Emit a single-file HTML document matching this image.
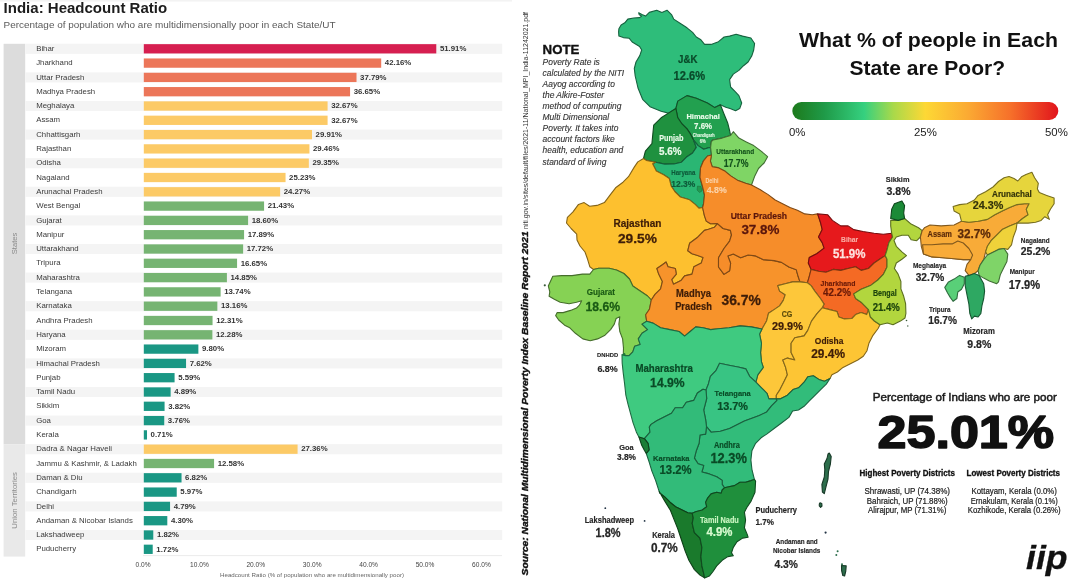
<!DOCTYPE html>
<html lang="en">
<head>
<meta charset="utf-8">
<title>India: Headcount Ratio</title>
<style>
html,body{margin:0;padding:0;background:#fff;}
body{width:1080px;height:585px;overflow:hidden;font-family:"Liberation Sans",sans-serif;}
svg{display:block;position:absolute;left:0;top:0;}
text{font-family:"Liberation Sans",sans-serif;}
.rl{font-size:7.8px;fill:#3a3a3a;}
.vl{font-size:7.8px;fill:#333;font-weight:bold;}
.ax{font-size:6.6px;fill:#444;text-anchor:middle;}
.st{stroke-width:1.1;stroke-linejoin:round;}
.lb{font-weight:bold;text-anchor:middle;}
</style>
</head>
<body>
<svg width="1080" height="585" viewBox="0 0 1080 585">
<rect x="0" y="0" width="1080" height="585" fill="#ffffff"/>
<rect x="0" y="0" width="512" height="1.6" fill="#f3f3f3"/>
<g id="chart">
<text x="3.6" y="13.2" font-size="14.2" font-weight="bold" fill="#1c1c1c" textLength="163.5" lengthAdjust="spacingAndGlyphs">India: Headcount Ratio</text>
<text x="3.6" y="28.1" font-size="9.3" fill="#5a5a5a" textLength="332" lengthAdjust="spacingAndGlyphs">Percentage of population who are multidimensionally poor in each State/UT</text>
<rect x="3.6" y="43.8" width="21.6" height="400.4" fill="#dcdcdc"/>
<rect x="3.6" y="444.2" width="21.6" height="112.4" fill="#e9e9e9"/>
<text transform="translate(16.6,243.5) rotate(-90)" font-size="7.6" fill="#8a8a8a" text-anchor="middle">States</text>
<text transform="translate(16.6,500.4) rotate(-90)" font-size="7.8" fill="#8a8a8a" text-anchor="middle">Union Territories</text>
<rect x="25.2" y="43.75" width="477" height="10.1" fill="#f4f4f4"/>
<rect x="25.2" y="72.35" width="477" height="10.1" fill="#f4f4f4"/>
<rect x="25.2" y="100.95" width="477" height="10.1" fill="#f4f4f4"/>
<rect x="25.2" y="129.55" width="477" height="10.1" fill="#f4f4f4"/>
<rect x="25.2" y="158.15" width="477" height="10.1" fill="#f4f4f4"/>
<rect x="25.2" y="186.75" width="477" height="10.1" fill="#f4f4f4"/>
<rect x="25.2" y="215.35" width="477" height="10.1" fill="#f4f4f4"/>
<rect x="25.2" y="243.95" width="477" height="10.1" fill="#f4f4f4"/>
<rect x="25.2" y="272.55" width="477" height="10.1" fill="#f4f4f4"/>
<rect x="25.2" y="301.15" width="477" height="10.1" fill="#f4f4f4"/>
<rect x="25.2" y="329.75" width="477" height="10.1" fill="#f4f4f4"/>
<rect x="25.2" y="358.35" width="477" height="10.1" fill="#f4f4f4"/>
<rect x="25.2" y="386.95" width="477" height="10.1" fill="#f4f4f4"/>
<rect x="25.2" y="415.55" width="477" height="10.1" fill="#f4f4f4"/>
<rect x="25.2" y="444.15" width="477" height="10.1" fill="#f4f4f4"/>
<rect x="25.2" y="472.75" width="477" height="10.1" fill="#f4f4f4"/>
<rect x="25.2" y="501.35" width="477" height="10.1" fill="#f4f4f4"/>
<rect x="25.2" y="529.95" width="477" height="10.1" fill="#f4f4f4"/>
<rect x="143.8" y="44.15" width="292.49" height="9.3" fill="#d61f50"/>
<text class="rl" x="36.2" y="50.90">Bihar</text>
<text class="vl" x="439.9" y="51.00">51.91%</text>
<rect x="143.8" y="58.45" width="237.40" height="9.3" fill="#ec7659"/>
<text class="rl" x="36.2" y="65.20">Jharkhand</text>
<text class="vl" x="384.8" y="65.30">42.16%</text>
<rect x="143.8" y="72.75" width="212.71" height="9.3" fill="#ec7659"/>
<text class="rl" x="36.2" y="79.50">Uttar Pradesh</text>
<text class="vl" x="360.1" y="79.60">37.79%</text>
<rect x="143.8" y="87.05" width="206.27" height="9.3" fill="#ec7659"/>
<text class="rl" x="36.2" y="93.80">Madhya Pradesh</text>
<text class="vl" x="353.7" y="93.90">36.65%</text>
<rect x="143.8" y="101.35" width="183.79" height="9.3" fill="#fcca66"/>
<text class="rl" x="36.2" y="108.10">Meghalaya</text>
<text class="vl" x="331.2" y="108.20">32.67%</text>
<rect x="143.8" y="115.65" width="183.79" height="9.3" fill="#fcca66"/>
<text class="rl" x="36.2" y="122.40">Assam</text>
<text class="vl" x="331.2" y="122.50">32.67%</text>
<rect x="143.8" y="129.95" width="168.19" height="9.3" fill="#fcca66"/>
<text class="rl" x="36.2" y="136.70">Chhattisgarh</text>
<text class="vl" x="315.6" y="136.80">29.91%</text>
<rect x="143.8" y="144.25" width="165.65" height="9.3" fill="#fcca66"/>
<text class="rl" x="36.2" y="151.00">Rajasthan</text>
<text class="vl" x="313.0" y="151.10">29.46%</text>
<rect x="143.8" y="158.55" width="165.03" height="9.3" fill="#fcca66"/>
<text class="rl" x="36.2" y="165.30">Odisha</text>
<text class="vl" x="312.4" y="165.40">29.35%</text>
<rect x="143.8" y="172.85" width="141.75" height="9.3" fill="#fcca66"/>
<text class="rl" x="36.2" y="179.60">Nagaland</text>
<text class="vl" x="289.1" y="179.70">25.23%</text>
<rect x="143.8" y="187.15" width="136.33" height="9.3" fill="#fcca66"/>
<text class="rl" x="36.2" y="193.90">Arunachal Pradesh</text>
<text class="vl" x="283.7" y="194.00">24.27%</text>
<rect x="143.8" y="201.45" width="120.28" height="9.3" fill="#76b472"/>
<text class="rl" x="36.2" y="208.20">West Bengal</text>
<text class="vl" x="267.7" y="208.30">21.43%</text>
<rect x="143.8" y="215.75" width="104.29" height="9.3" fill="#76b472"/>
<text class="rl" x="36.2" y="222.50">Gujarat</text>
<text class="vl" x="251.7" y="222.60">18.60%</text>
<rect x="143.8" y="230.05" width="100.28" height="9.3" fill="#76b472"/>
<text class="rl" x="36.2" y="236.80">Manipur</text>
<text class="vl" x="247.7" y="236.90">17.89%</text>
<rect x="143.8" y="244.35" width="99.32" height="9.3" fill="#76b472"/>
<text class="rl" x="36.2" y="251.10">Uttarakhand</text>
<text class="vl" x="246.7" y="251.20">17.72%</text>
<rect x="143.8" y="258.65" width="93.27" height="9.3" fill="#76b472"/>
<text class="rl" x="36.2" y="265.40">Tripura</text>
<text class="vl" x="240.7" y="265.50">16.65%</text>
<rect x="143.8" y="272.95" width="83.10" height="9.3" fill="#76b472"/>
<text class="rl" x="36.2" y="279.70">Maharashtra</text>
<text class="vl" x="230.5" y="279.80">14.85%</text>
<rect x="143.8" y="287.25" width="76.83" height="9.3" fill="#76b472"/>
<text class="rl" x="36.2" y="294.00">Telangana</text>
<text class="vl" x="224.2" y="294.10">13.74%</text>
<rect x="143.8" y="301.55" width="73.55" height="9.3" fill="#76b472"/>
<text class="rl" x="36.2" y="308.30">Karnataka</text>
<text class="vl" x="221.0" y="308.40">13.16%</text>
<rect x="143.8" y="315.85" width="68.75" height="9.3" fill="#76b472"/>
<text class="rl" x="36.2" y="322.60">Andhra Pradesh</text>
<text class="vl" x="216.2" y="322.70">12.31%</text>
<rect x="143.8" y="330.15" width="68.58" height="9.3" fill="#76b472"/>
<text class="rl" x="36.2" y="336.90">Haryana</text>
<text class="vl" x="216.0" y="337.00">12.28%</text>
<rect x="143.8" y="344.45" width="54.57" height="9.3" fill="#1a9784"/>
<text class="rl" x="36.2" y="351.20">Mizoram</text>
<text class="vl" x="202.0" y="351.30">9.80%</text>
<rect x="143.8" y="358.75" width="42.25" height="9.3" fill="#1a9784"/>
<text class="rl" x="36.2" y="365.50">Himachal Pradesh</text>
<text class="vl" x="189.7" y="365.60">7.62%</text>
<rect x="143.8" y="373.05" width="30.78" height="9.3" fill="#1a9784"/>
<text class="rl" x="36.2" y="379.80">Punjab</text>
<text class="vl" x="178.2" y="379.90">5.59%</text>
<rect x="143.8" y="387.35" width="26.83" height="9.3" fill="#1a9784"/>
<text class="rl" x="36.2" y="394.10">Tamil Nadu</text>
<text class="vl" x="174.2" y="394.20">4.89%</text>
<rect x="143.8" y="401.65" width="20.78" height="9.3" fill="#1a9784"/>
<text class="rl" x="36.2" y="408.40">Sikkim</text>
<text class="vl" x="168.2" y="408.50">3.82%</text>
<rect x="143.8" y="415.95" width="20.44" height="9.3" fill="#1a9784"/>
<text class="rl" x="36.2" y="422.70">Goa</text>
<text class="vl" x="167.8" y="422.80">3.76%</text>
<rect x="143.8" y="430.25" width="3.21" height="9.3" fill="#1a9784"/>
<text class="rl" x="36.2" y="437.00">Kerala</text>
<text class="vl" x="150.6" y="437.10">0.71%</text>
<rect x="143.8" y="444.55" width="153.78" height="9.3" fill="#fcca66"/>
<text class="rl" x="36.2" y="451.30">Dadra &amp; Nagar Haveli</text>
<text class="vl" x="301.2" y="451.40">27.36%</text>
<rect x="143.8" y="458.85" width="70.28" height="9.3" fill="#76b472"/>
<text class="rl" x="36.2" y="465.60">Jammu &amp; Kashmir, &amp; Ladakh</text>
<text class="vl" x="217.7" y="465.70">12.58%</text>
<rect x="143.8" y="473.15" width="37.73" height="9.3" fill="#1a9784"/>
<text class="rl" x="36.2" y="479.90">Daman &amp; Diu</text>
<text class="vl" x="185.1" y="480.00">6.82%</text>
<rect x="143.8" y="487.45" width="32.93" height="9.3" fill="#1a9784"/>
<text class="rl" x="36.2" y="494.20">Chandigarh</text>
<text class="vl" x="180.3" y="494.30">5.97%</text>
<rect x="143.8" y="501.75" width="26.26" height="9.3" fill="#1a9784"/>
<text class="rl" x="36.2" y="508.50">Delhi</text>
<text class="vl" x="173.7" y="508.60">4.79%</text>
<rect x="143.8" y="516.05" width="23.50" height="9.3" fill="#1a9784"/>
<text class="rl" x="36.2" y="522.80">Andaman &amp; Nicobar Islands</text>
<text class="vl" x="170.9" y="522.90">4.30%</text>
<rect x="143.8" y="530.35" width="9.48" height="9.3" fill="#1a9784"/>
<text class="rl" x="36.2" y="537.10">Lakshadweep</text>
<text class="vl" x="156.9" y="537.20">1.82%</text>
<rect x="143.8" y="544.65" width="8.92" height="9.3" fill="#1a9784"/>
<text class="rl" x="36.2" y="551.40">Puducherry</text>
<text class="vl" x="156.3" y="551.50">1.72%</text>
<text class="ax" x="143.0" y="567.3">0.0%</text>
<text class="ax" x="199.4" y="567.3">10.0%</text>
<text class="ax" x="255.8" y="567.3">20.0%</text>
<text class="ax" x="312.2" y="567.3">30.0%</text>
<text class="ax" x="368.6" y="567.3">40.0%</text>
<text class="ax" x="425.0" y="567.3">50.0%</text>
<text class="ax" x="481.4" y="567.3">60.0%</text>
<line x1="143" y1="555.6" x2="502" y2="555.6" stroke="#e2e2e2" stroke-width="0.7"/>
<text x="312" y="576.6" font-size="5.4" fill="#666" text-anchor="middle" textLength="184" lengthAdjust="spacingAndGlyphs">Headcount Ratio (% of population who are multidimensionally poor)</text>
</g>
<g id="source" transform="translate(527.8,575.4) rotate(-90)">
<text x="0" y="0" font-size="9.7" fill="#111" stroke="#111" stroke-width="0.4" font-weight="bold" font-style="italic" textLength="344" lengthAdjust="spacingAndGlyphs">Source: National Multidimensional Poverty Index Baseline Report 2021</text>
<text x="346.4" y="0" font-size="6.6" fill="#333" textLength="217" lengthAdjust="spacingAndGlyphs">niti.gov.in/sites/default/files/2021-11/National_MPI_India-11242021.pdf</text>
</g>
<g id="note">
<text x="542.6" y="53.6" font-size="12.6" font-weight="bold" fill="#111" stroke="#111" stroke-width="0.35" textLength="36.8" lengthAdjust="spacingAndGlyphs">NOTE</text>
<text x="542.6" y="65.00" font-size="8.45" font-style="italic" fill="#333" stroke="#333" stroke-width="0.12">Poverty Rate is</text>
<text x="542.6" y="76.06" font-size="8.45" font-style="italic" fill="#333" stroke="#333" stroke-width="0.12">calculated by the NITI</text>
<text x="542.6" y="87.12" font-size="8.45" font-style="italic" fill="#333" stroke="#333" stroke-width="0.12">Aayog according to</text>
<text x="542.6" y="98.18" font-size="8.45" font-style="italic" fill="#333" stroke="#333" stroke-width="0.12">the Alkire-Foster</text>
<text x="542.6" y="109.24" font-size="8.45" font-style="italic" fill="#333" stroke="#333" stroke-width="0.12">method of computing</text>
<text x="542.6" y="120.30" font-size="8.45" font-style="italic" fill="#333" stroke="#333" stroke-width="0.12">Multi Dimensional</text>
<text x="542.6" y="131.36" font-size="8.45" font-style="italic" fill="#333" stroke="#333" stroke-width="0.12">Poverty. It takes into</text>
<text x="542.6" y="142.42" font-size="8.45" font-style="italic" fill="#333" stroke="#333" stroke-width="0.12">account factors like</text>
<text x="542.6" y="153.48" font-size="8.45" font-style="italic" fill="#333" stroke="#333" stroke-width="0.12">health, education and</text>
<text x="542.6" y="164.54" font-size="8.45" font-style="italic" fill="#333" stroke="#333" stroke-width="0.12">standard of living</text>
</g>
<g id="map">
<polygon class="st" points="638.7,12.8 641.9,14.6 645.6,16.1 649.3,12.4 656.7,10.2 661.9,12.4 667.0,10.2 671.5,14.6 673.7,19.1 680.4,23.5 687.0,27.8 692.6,32.4 696.3,37.0 700.9,39.8 704.6,44.4 711.1,44.4 718.5,41.7 724.1,37.0 729.6,36.1 736.1,34.3 742.6,36.1 750.9,38.0 754.6,43.5 753.7,50.0 751.9,55.6 748.1,62.0 743.5,65.7 738.9,70.4 733.3,74.1 729.6,79.6 730.6,87.0 735.2,91.7 738.9,95.6 741.7,103.0 739.7,108.6 735.6,110.7 730.0,108.6 725.8,107.2 720.4,104.8 714.8,107.6 707.4,103.0 696.3,98.3 687.0,95.6 677.8,101.1 675.9,108.5 668.5,113.1 661.1,111.3 650.0,106.7 642.6,99.3 638.0,88.0 635.2,76.0 634.3,68.5 636.0,62.0 639.8,55.6 641.7,50.0 639.6,46.5 632.2,42.0 629.3,38.3 623.3,37.6 618.9,36.1 618.6,32.0 618.9,28.7 621.1,25.0 624.8,22.8 627.8,19.1 633.7,18.0 639.6,17.6 641.5,16.2 639.2,14.6" fill="#2ebd7a" stroke="#17623f"/>
<polygon class="st" points="675.9,108.5 677.8,101.1 687.0,95.6 696.3,98.3 707.4,103.0 714.8,107.6 720.4,104.8 724.0,114.0 727.8,123.3 729.6,130.7 730.6,135.4 722.2,138.1 713.0,140.0 711.3,141.5 710.6,147.5 708.5,147.8 703.7,149.3 698.1,145.6 693.5,140.0 690.7,134.4 687.0,128.9 681.5,123.3 677.8,117.8" fill="#22a04f" stroke="#115329"/>
<polygon class="st" points="668.5,113.1 675.9,108.5 677.8,117.8 681.5,123.3 687.0,128.9 690.7,134.4 693.5,140.0 696.3,147.4 692.6,153.0 687.0,156.7 681.5,162.2 674.0,164.0 664.8,164.1 655.6,162.2 646.3,160.4 643.5,158.5 645.4,151.1 651.9,143.7 652.8,134.4 653.7,125.2 661.1,117.8" fill="#1f913f" stroke="#104b20"/>
<polygon class="st" points="696.3,147.4 693.5,140.0 698.1,145.6 703.7,149.3 708.5,147.8 710.6,147.5 711.5,155.0 707.5,156.0 703.5,160.8 700.5,168.0 700.0,177.5 702.5,186.5 704.5,195.0 703.5,204.0 702.6,207.5 698.9,208.1 695.2,204.4 689.6,199.8 680.4,197.0 674.8,191.5 671.1,185.9 669.3,178.5 663.7,174.8 656.3,171.1 652.6,163.7 655.6,162.2 664.8,164.1 674.0,164.0 681.5,162.2 687.0,156.7 692.6,153.0" fill="#2ab673" stroke="#155e3b"/>
<polygon class="st" points="730.6,135.4 733.3,131.7 738.9,138.1 746.3,141.9 753.7,145.6 761.1,151.1 767.6,156.7 764.1,163.0 758.5,168.5 754.8,175.9 751.5,185.0 745.6,183.3 738.1,180.6 730.7,175.9 725.2,171.3 717.8,167.6 712.2,166.7 710.4,161.1 711.5,155.0 710.6,147.5 711.3,141.5 713.0,140.0 722.2,138.1" fill="#7fd565" stroke="#426e34"/>
<polygon class="st" points="637.8,161.9 643.5,158.5 646.3,160.4 655.6,162.2 652.6,163.7 656.3,171.1 663.7,174.8 669.3,178.5 671.1,185.9 674.8,191.5 680.4,197.0 689.6,199.8 695.2,204.4 698.9,208.1 702.6,207.5 704.4,215.6 706.3,221.1 710.5,223.8 717.5,223.6 714.5,227.2 708.5,229.3 704.4,230.4 697.0,237.8 689.6,243.3 687.8,250.7 692.0,253.7 697.6,255.6 703.1,257.4 701.3,263.0 693.9,266.7 692.0,274.1 684.6,275.9 680.9,280.6 673.5,284.3 671.7,279.6 676.3,274.1 675.4,268.5 668.0,266.7 666.1,262.0 662.4,264.8 656.9,268.5 658.7,274.1 662.4,281.5 660.6,288.9 655.0,294.4 651.3,300.0 647.6,296.0 640.2,291.0 632.8,286.0 629.5,279.0 623.9,273.5 616.5,270.0 609.1,268.3 598.7,268.3 593.5,269.5 589.8,266.7 587.6,259.3 585.0,252.0 580.0,246.0 577.0,240.0 576.7,234.1 571.1,228.5 566.5,223.0 567.4,217.4 573.0,211.9 578.5,204.4 584.1,202.6 589.6,206.3 597.0,205.4 604.4,202.6 610.0,195.2 615.6,187.8 623.0,182.2 628.5,176.7 634.1,167.4" fill="#fdc02f" stroke="#836318"/>
<polygon class="st" points="593.5,269.5 598.7,268.3 609.1,268.3 616.5,270.0 623.9,273.5 629.5,279.0 632.8,286.0 640.2,291.0 647.6,296.0 651.3,300.0 649.4,309.3 645.7,314.8 646.7,321.3 642.0,324.1 647.6,329.6 642.0,333.3 638.3,338.9 640.2,344.4 634.6,346.3 632.8,351.9 629.1,355.6 625.4,355.6 623.3,354.1 623.5,348.1 622.6,338.9 619.8,331.5 618.9,324.1 619.8,316.7 616.1,318.5 614.3,324.1 610.6,329.6 605.0,335.2 597.6,338.9 590.2,340.7 582.8,338.9 575.4,333.3 569.8,327.8 564.6,325.2 558.7,320.0 555.7,315.6 557.2,312.6 563.1,312.6 570.6,310.4 576.5,308.1 579.4,305.2 581.7,300.7 576.5,302.2 569.1,303.7 560.2,302.2 554.3,299.3 549.1,296.3 549.8,291.9 548.3,285.9 552.8,276.3 561.7,275.6 572.0,275.6 582.4,274.1 589.8,274.1" fill="#86d254" stroke="#456d2b"/>
<polygon class="st" points="704.4,230.4 708.5,229.3 714.5,227.2 717.5,223.6 723.0,228.5 730.4,230.4 731.5,235.0 729.6,241.1 724.0,248.5 718.5,257.8 718.5,267.0 724.0,274.4 729.6,270.7 730.6,263.3 727.8,255.9 733.3,254.0 740.7,257.8 748.1,255.0 755.6,255.9 763.0,259.6 774.1,260.6 781.5,262.4 788.9,267.0 796.3,269.8 798.1,276.3 800.0,281.9 792.6,281.9 785.2,283.7 777.8,285.6 779.6,291.1 785.2,294.8 783.3,300.4 779.6,305.9 774.1,309.6 768.5,313.3 766.7,320.7 762.0,329.0 751.3,326.9 740.2,325.9 729.1,327.8 718.0,328.7 710.6,329.6 703.1,327.8 695.7,326.9 690.2,331.5 684.6,336.1 679.1,331.5 669.8,329.6 660.6,327.8 653.1,323.1 646.7,321.3 645.7,314.8 649.4,309.3 651.3,300.0 655.0,294.4 660.6,288.9 662.4,281.5 658.7,274.1 656.9,268.5 662.4,264.8 666.1,262.0 668.0,266.7 675.4,268.5 676.3,274.1 671.7,279.6 673.5,284.3 680.9,280.6 684.6,275.9 692.0,274.1 693.9,266.7 701.3,263.0 703.1,257.4 697.6,255.6 692.0,253.7 687.8,250.7 689.6,243.3 697.0,237.8 704.4,230.4" fill="#f7932b" stroke="#804c16"/>
<polygon class="st" points="707.5,156.0 711.5,155.0 710.4,161.1 712.2,166.7 717.8,167.6 725.2,171.3 730.7,175.9 738.1,180.6 745.6,183.3 751.5,185.0 760.4,189.8 767.8,194.4 775.2,200.0 782.6,203.7 790.0,207.4 797.4,210.2 804.8,213.9 812.2,214.8 817.6,213.9 820.4,222.2 822.2,229.6 818.5,237.0 822.2,242.6 824.1,248.1 816.7,253.7 809.3,257.4 808.3,263.0 811.1,269.4 809.3,276.3 807.4,282.8 800.0,281.9 798.1,276.3 796.3,269.8 788.9,267.0 781.5,262.4 774.1,260.6 763.0,259.6 755.6,255.9 748.1,255.0 740.7,257.8 733.3,254.0 727.8,255.9 730.6,263.3 729.6,270.7 724.0,274.4 718.5,267.0 718.5,257.8 724.0,248.5 729.6,241.1 731.5,235.0 730.4,230.4 723.0,228.5 717.5,223.6 710.5,223.8 706.3,221.1 704.4,215.6 702.6,207.5 703.5,204.0 704.5,195.0 702.5,186.5 700.0,177.5 700.5,168.0 703.5,160.8" fill="#f68d2a" stroke="#7f4915"/>
<polygon class="st" points="817.6,213.9 827.8,214.8 832.4,220.4 840.7,225.9 848.1,225.9 853.7,229.6 863.0,231.5 874.1,233.3 883.3,234.3 891.7,233.3 892.6,237.0 888.9,242.6 887.0,250.0 885.2,255.6 879.6,259.3 874.1,263.0 868.5,268.5 861.1,270.4 855.6,266.7 848.1,268.5 840.7,270.4 833.3,269.4 825.9,272.2 818.5,271.3 811.1,269.4 808.3,263.0 809.3,257.4 816.7,253.7 824.1,248.1 822.2,242.6 818.5,237.0 822.2,229.6 820.4,222.2" fill="#e6191c" stroke="#770d0e"/>
<polygon class="st" points="811.1,269.4 818.5,271.3 825.9,272.2 833.3,269.4 840.7,270.4 848.1,268.5 855.6,266.7 861.1,270.4 868.5,268.5 874.1,263.0 879.6,259.3 885.2,255.6 887.0,259.3 887.0,267.0 883.3,274.4 877.8,280.0 870.4,285.6 861.1,289.3 853.7,293.9 855.6,298.5 861.1,302.2 864.8,305.9 868.5,309.6 866.7,314.6 861.1,312.6 855.6,314.6 851.9,318.5 844.4,318.9 838.9,317.0 837.0,311.5 829.6,309.6 822.2,307.8 824.1,304.1 820.4,298.5 814.8,291.1 811.1,285.6 807.4,282.8 809.3,276.3" fill="#f46a24" stroke="#7e3712"/>
<polygon class="st" points="777.8,285.6 785.2,283.7 792.6,281.9 800.0,281.9 807.4,282.8 811.1,285.6 814.8,291.1 820.4,298.5 824.1,304.1 822.2,307.8 817.0,313.7 811.5,321.1 807.8,330.4 804.1,335.9 794.8,337.8 791.1,343.3 791.1,352.6 794.8,360.0 787.4,358.1 782.8,360.0 785.6,367.4 787.4,374.8 783.7,382.2 780.0,389.6 776.3,395.2 776.3,398.9 768.9,398.9 767.0,393.3 761.5,387.8 755.9,382.2 757.8,374.8 763.3,367.4 761.5,361.9 760.6,352.6 761.5,343.3 759.6,334.1 762.0,329.0 766.7,320.7 768.5,313.3 774.1,309.6 779.6,305.9 783.3,300.4 785.2,294.8 779.6,291.1" fill="#fdc73a" stroke="#83671e"/>
<polygon class="st" points="822.2,307.8 829.6,309.6 837.0,311.5 838.9,317.0 844.4,318.9 851.9,318.5 855.6,314.6 861.1,312.6 866.7,314.6 868.5,309.6 870.4,317.0 874.4,321.0 880.0,324.8 878.1,328.5 872.6,335.9 868.9,343.3 867.0,350.7 863.3,356.3 857.8,360.0 850.4,363.7 843.0,367.4 837.4,372.0 831.9,374.8 830.0,378.5 824.4,381.3 818.9,379.4 813.3,375.7 807.8,376.7 804.1,382.2 798.5,387.8 793.0,389.6 787.4,395.2 780.0,398.9 776.3,398.9 776.3,395.2 780.0,389.6 783.7,382.2 787.4,374.8 785.6,367.4 782.8,360.0 787.4,358.1 794.8,360.0 791.1,352.6 791.1,343.3 794.8,337.8 804.1,335.9 807.8,330.4 811.5,321.1 817.0,313.7" fill="#fdc534" stroke="#83661b"/>
<polygon class="st" points="890.7,220.4 898.1,220.4 904.6,218.5 911.1,224.1 918.5,227.8 922.2,230.6 920.4,237.0 916.7,240.7 911.1,239.8 908.3,235.2 901.9,235.2 896.3,237.0 894.0,240.5 896.3,246.3 901.9,251.9 906.5,255.6 901.9,259.3 896.3,263.0 894.4,268.5 898.1,274.1 900.9,281.5 900.9,288.9 903.7,296.3 905.6,303.7 905.9,313.3 905.0,318.0 900.4,321.1 893.0,324.8 887.4,323.0 880.0,324.8 874.4,321.0 870.4,317.0 868.5,309.6 864.8,305.9 861.1,302.2 855.6,298.5 853.7,293.9 861.1,289.3 870.4,285.6 877.8,280.0 883.3,274.4 887.0,267.0 887.0,259.3 885.2,255.6 887.0,250.0 888.9,242.6 892.6,237.0 891.7,233.3 890.7,226.0" fill="#b2d63e" stroke="#5c6f20"/>
<polygon class="st" points="890.7,218.5 891.7,209.3 894.4,203.7 901.9,200.9 904.6,205.6 903.7,213.0 904.6,218.5 898.1,220.4" fill="#1b8a37" stroke="#0e471c"/>
<polygon class="st" points="922.2,230.6 924.4,227.8 930.0,225.0 941.1,225.9 954.1,225.0 961.5,221.3 968.9,222.2 978.1,221.3 987.4,219.4 994.8,214.8 1002.2,211.1 1009.6,207.4 1017.0,204.6 1024.4,203.7 1029.1,203.7 1026.3,209.3 1028.1,214.8 1022.6,218.5 1017.0,223.1 1009.6,225.9 1002.2,229.6 996.7,235.2 991.1,240.7 987.4,246.3 985.6,251.9 983.7,259.6 980.0,265.2 978.1,270.7 974.4,273.5 968.9,275.4 965.2,270.7 967.0,264.3 970.7,259.6 963.3,259.6 954.1,258.7 943.0,257.8 931.9,256.9 923.5,254.1 921.3,246.3 920.4,237.0" fill="#f8ab38" stroke="#80581d"/>
<polygon class="st" points="922.6,244.8 931.9,244.8 943.0,243.9 952.2,243.9 957.8,241.1 963.3,243.0 968.9,248.5 972.6,255.0 970.7,259.6 963.3,259.6 954.1,258.7 943.0,257.8 931.9,256.9 923.5,254.1" fill="#f8ab38" stroke="#80581d"/>
<polygon class="st" points="953.1,206.5 959.6,204.6 967.0,203.7 974.4,200.0 978.1,195.4 985.6,191.7 993.0,187.0 998.5,181.5 1004.1,177.8 1009.0,176.5 1014.0,178.5 1017.8,181.0 1021.5,176.8 1026.0,174.6 1031.9,172.2 1034.6,177.8 1038.3,183.3 1037.4,188.9 1039.3,192.6 1046.7,195.4 1054.1,198.1 1054.1,203.7 1050.4,209.3 1047.6,214.8 1049.4,219.4 1044.8,216.7 1041.1,220.4 1035.6,222.2 1028.1,223.1 1017.0,223.1 1022.6,218.5 1028.1,214.8 1026.3,209.3 1029.1,203.7 1024.4,203.7 1017.0,204.6 1009.6,207.4 1002.2,211.1 994.8,214.8 987.4,219.4 978.1,221.3 968.9,222.2 961.5,221.3 959.6,213.9 954.1,211.1" fill="#e6d53c" stroke="#776e1f"/>
<polygon class="st" points="1017.0,223.1 1016.1,229.6 1013.3,237.0 1011.5,244.8 1007.8,249.4 1004.1,248.5 998.5,249.4 993.0,252.2 987.4,255.0 985.6,251.9 987.4,246.3 991.1,240.7 996.7,235.2 1002.2,229.6 1009.6,225.9" fill="#efd23a" stroke="#7c6d1e"/>
<polygon class="st" points="987.4,255.0 993.0,252.2 998.5,249.4 1004.1,248.5 1007.8,254.1 1006.9,261.5 1004.1,267.0 1000.4,274.4 998.5,281.9 996.7,283.7 989.3,280.9 983.7,278.1 979.1,275.4 978.1,270.7 980.0,265.2 983.7,259.6" fill="#7fd468" stroke="#426e36"/>
<polygon class="st" points="965.2,276.3 968.9,275.4 974.4,273.5 979.1,275.4 983.7,283.7 984.6,291.1 983.7,298.5 981.9,305.9 980.9,313.3 978.1,317.0 974.4,316.1 971.7,318.9 969.8,313.3 968.9,304.1 967.0,294.8 965.2,285.6" fill="#2ea862" stroke="#175732"/>
<polygon class="st" points="944.8,287.4 948.5,281.9 954.1,279.1 959.6,275.4 964.3,277.2 964.3,283.7 961.5,289.3 957.8,292.0 956.9,298.5 953.1,301.3 950.4,297.6 947.6,293.0" fill="#59cf78" stroke="#2e6b3e"/>
<polygon class="st" points="622.0,354.6 625.4,355.6 629.1,355.6 632.8,351.9 634.6,346.3 640.2,344.4 638.3,338.9 642.0,333.3 647.6,329.6 642.0,324.1 646.7,321.3 653.1,323.1 660.6,327.8 669.8,329.6 679.1,331.5 684.6,336.1 690.2,331.5 695.7,326.9 703.1,327.8 710.6,329.6 718.0,328.7 729.1,327.8 740.2,325.9 751.3,326.9 762.0,329.0 759.6,334.1 761.5,343.3 760.6,352.6 761.5,361.9 763.3,367.4 757.8,374.8 755.9,382.2 749.6,376.3 745.9,368.9 738.1,367.0 728.9,365.2 719.6,363.3 715.9,370.7 710.4,376.3 708.5,383.7 706.0,390.0 703.0,389.3 697.4,393.0 693.7,400.4 686.3,402.2 682.6,407.8 675.2,407.8 671.5,413.3 664.1,417.0 656.7,420.7 651.1,424.4 649.3,427.0 650.0,432.2 644.4,438.7 638.9,436.9 636.3,431.9 633.0,422.6 630.5,413.3 628.0,404.1 625.8,394.8 624.6,383.7 623.2,372.6 622.2,363.3" fill="#3fca80" stroke="#206942"/>
<polygon class="st" points="719.6,363.3 728.9,365.2 738.1,367.0 745.9,368.9 749.6,376.3 755.9,382.2 761.5,387.8 767.0,393.3 768.9,398.9 776.3,398.9 777.0,400.4 771.5,405.9 766.7,411.9 759.3,415.6 751.9,418.3 744.4,421.1 737.0,424.8 729.6,428.5 720.4,431.3 711.1,432.2 706.5,426.7 705.6,419.3 703.7,410.0 704.8,405.9 706.7,398.5 706.0,390.0 708.5,383.7 710.4,376.3 715.9,370.7" fill="#38c483" stroke="#1d6544"/>
<polygon class="st" points="706.5,426.7 711.1,432.2 720.4,431.3 729.6,428.5 737.0,424.8 744.4,421.1 751.9,418.3 759.3,415.6 766.7,411.9 771.5,405.9 777.0,400.4 776.3,398.9 780.0,398.9 787.4,395.2 793.0,389.6 798.5,387.8 804.1,382.2 807.8,376.7 813.3,375.7 818.9,379.4 824.4,381.3 830.0,378.5 826.3,384.1 820.7,389.6 815.2,395.2 809.6,400.7 804.1,406.3 798.5,410.0 792.6,411.0 788.9,417.4 781.5,423.0 774.1,428.5 766.7,434.1 761.1,437.8 755.6,443.3 751.9,450.7 750.9,460.0 751.9,469.3 753.7,476.7 754.4,479.4 751.1,480.6 745.6,482.2 740.0,482.2 734.4,485.6 728.9,486.7 724.4,487.8 722.2,484.4 722.2,480.4 716.7,476.7 709.3,473.9 701.9,472.0 703.7,465.6 698.1,463.7 694.4,458.1 696.3,450.7 699.1,443.3 700.0,435.0 705.6,434.1" fill="#32bc7a" stroke="#1a613f"/>
<polygon class="st" points="644.4,438.7 650.0,432.2 649.3,427.0 651.1,424.4 656.7,420.7 664.1,417.0 671.5,413.3 675.2,407.8 682.6,407.8 686.3,402.2 693.7,400.4 697.4,393.0 703.0,389.3 706.0,390.0 706.7,398.5 704.8,405.9 703.7,410.0 705.6,419.3 706.5,426.7 705.6,434.1 700.0,435.0 699.1,443.3 696.3,450.7 694.4,458.1 698.1,463.7 703.7,465.6 701.9,472.0 709.3,473.9 716.7,476.7 722.2,480.4 722.2,484.4 724.4,487.8 722.2,490.0 721.1,493.3 716.7,492.2 711.1,493.9 707.8,497.8 705.6,502.2 706.7,506.7 702.2,510.0 695.6,511.7 692.2,513.3 687.8,512.8 682.2,510.0 675.6,506.7 670.0,502.2 664.4,496.7 660.0,493.3 659.3,491.8 655.6,480.4 651.9,471.1 649.1,461.9 646.3,453.5 649.1,449.8 648.1,443.3" fill="#32bb79" stroke="#1a613e"/>
<polygon class="st" points="638.9,436.9 644.4,438.7 648.1,443.3 649.1,449.8 646.3,453.5 644.5,450.5 641.7,445.2" fill="#1b7e37" stroke="#0e411c"/>
<polygon class="st" points="659.3,491.8 660.0,493.3 664.4,496.7 670.0,502.2 675.6,506.7 682.2,510.0 687.8,512.8 692.2,513.3 693.3,517.8 692.2,523.3 694.4,532.6 700.0,538.1 701.9,547.4 700.9,556.6 701.9,565.9 703.7,573.3 704.6,577.9 700.0,575.1 694.4,569.6 688.9,560.3 685.2,551.1 681.5,540.0 677.8,528.9 674.1,519.6 670.4,510.3 664.8,501.1" fill="#1a7a2c" stroke="#0d3f16"/>
<polygon class="st" points="724.4,487.8 728.9,486.7 734.4,485.6 740.0,482.2 745.6,482.2 751.1,480.6 754.4,479.4 755.6,481.0 755.0,492.2 751.1,501.1 746.7,507.8 744.4,512.2 745.6,520.0 744.4,527.8 747.2,534.4 748.1,537.2 742.6,538.1 737.0,541.8 733.3,547.4 731.5,552.9 733.3,555.7 727.8,556.6 722.2,560.3 716.7,565.9 713.0,571.5 709.3,576.1 704.6,577.9 703.7,573.3 701.9,565.9 700.9,556.6 701.9,547.4 700.0,538.1 694.4,532.6 692.2,523.3 693.3,517.8 692.2,513.3 695.6,511.7 702.2,510.0 706.7,506.7 705.6,502.2 707.8,497.8 711.1,493.9 716.7,492.2 721.1,493.3 722.2,490.0" fill="#1f8f3c" stroke="#104a1f"/>
<polygon class="st" points="829.3,453.0 831.2,456.5 830.4,464.0 828.5,471.5 828.0,479.0 826.1,486.3 824.3,493.7 822.4,492.0 821.9,484.5 824.3,477.0 824.8,469.6 824.3,464.0 827.0,458.5 828.0,454.0" fill="#2d6e4c" stroke="#173927"/>
<polygon class="st" points="820.0,502.8 821.8,503.5 822.0,506.0 820.6,507.4 819.3,506.0 819.3,504.0" fill="#2d6e4c" stroke="#173927"/>
<polygon class="st" points="841.5,565.5 846.2,565.8 845.8,571.0 844.6,576.0 842.8,575.5 841.6,570.5" fill="#2d6e4c" stroke="#173927"/>
<circle cx="605.3" cy="508.2" r="0.9" fill="#234"/>
<circle cx="644.6" cy="520.9" r="0.9" fill="#234"/>
<circle cx="825.6" cy="532.6" r="1.1" fill="#234"/>
<circle cx="837.6" cy="551.3" r="1.0" fill="#2d6e4c"/>
<circle cx="836.3" cy="555" r="1.0" fill="#2d6e4c"/>
<circle cx="842" cy="564.2" r="1.0" fill="#2d6e4c"/>
<circle cx="624.2" cy="354.3" r="1.2" fill="#1e7a3a"/>
<polygon points="697.5,186 701,186.5 702,191 699.5,192.5 697,190" fill="#1f9a50" stroke="#1a6a3a" stroke-width="0.5"/>
<circle cx="544.8" cy="285.3" r="1.1" fill="#3a5a3a"/>
<circle cx="906.5" cy="320.5" r="0.8" fill="#3a5a3a"/>
<circle cx="907.8" cy="326" r="0.7" fill="#3a5a3a"/>
<text class="lb" x="687.8" y="62.73" font-size="10.8" fill="#0a4a2a" stroke="#0a4a2a" stroke-width="0.22" textLength="19.4" lengthAdjust="spacingAndGlyphs">J&amp;K</text>
<text class="lb" x="689.3" y="79.86" font-size="12.0" fill="#0a4a2a" stroke="#0a4a2a" stroke-width="0.24" textLength="31.5" lengthAdjust="spacingAndGlyphs">12.6%</text>
<text class="lb" x="703.1" y="119.14" font-size="8.0" fill="#e9fbe9" stroke="#e9fbe9" stroke-width="0.16" textLength="33.3" lengthAdjust="spacingAndGlyphs">Himachal</text>
<text class="lb" x="703.1" y="128.79" font-size="9.0" fill="#e9fbe9" stroke="#e9fbe9" stroke-width="0.18" textLength="18.0" lengthAdjust="spacingAndGlyphs">7.6%</text>
<text class="lb" x="671.3" y="141.45" font-size="8.3" fill="#e9fbe9" stroke="#e9fbe9" stroke-width="0.17" textLength="24.3" lengthAdjust="spacingAndGlyphs">Punjab</text>
<text class="lb" x="670.4" y="154.60" font-size="11.0" fill="#e9fbe9" stroke="#e9fbe9" stroke-width="0.22" textLength="22.6" lengthAdjust="spacingAndGlyphs">5.6%</text>
<text class="lb" x="703.7" y="136.60" font-size="4.5" fill="#e9fbe9" stroke="#e9fbe9" stroke-width="0.09" textLength="22.0" lengthAdjust="spacingAndGlyphs">Chandigarh</text>
<text class="lb" x="702.8" y="142.90" font-size="4.5" fill="#e9fbe9" stroke="#e9fbe9" stroke-width="0.09" textLength="6.0" lengthAdjust="spacingAndGlyphs">6%</text>
<text class="lb" x="735.2" y="154.19" font-size="7.0" fill="#14521c" stroke="#14521c" stroke-width="0.14" textLength="37.8" lengthAdjust="spacingAndGlyphs">Uttarakhand</text>
<text class="lb" x="736.1" y="166.65" font-size="10.0" fill="#14521c" stroke="#14521c" stroke-width="0.20" textLength="24.8" lengthAdjust="spacingAndGlyphs">17.7%</text>
<text class="lb" x="683.3" y="175.49" font-size="7.0" fill="#0e5a3a" stroke="#0e5a3a" stroke-width="0.14" textLength="24.0" lengthAdjust="spacingAndGlyphs">Haryana</text>
<text class="lb" x="683.3" y="186.87" font-size="9.5" fill="#0e5a3a" stroke="#0e5a3a" stroke-width="0.19" textLength="24.0" lengthAdjust="spacingAndGlyphs">12.3%</text>
<text class="lb" x="712.0" y="183.19" font-size="7.0" fill="#fbd2a8" stroke="#fbd2a8" stroke-width="0.14" textLength="13.0" lengthAdjust="spacingAndGlyphs">Delhi</text>
<text class="lb" x="716.7" y="193.37" font-size="9.5" fill="#fbd2a8" stroke="#fbd2a8" stroke-width="0.19" textLength="20.0" lengthAdjust="spacingAndGlyphs">4.8%</text>
<text class="lb" x="637.4" y="226.73" font-size="10.5" fill="#3e1d08" stroke="#3e1d08" stroke-width="0.21" textLength="48.0" lengthAdjust="spacingAndGlyphs">Rajasthan</text>
<text class="lb" x="637.4" y="242.72" font-size="13.0" fill="#3e1d08" stroke="#3e1d08" stroke-width="0.26" textLength="39.0" lengthAdjust="spacingAndGlyphs">29.5%</text>
<text class="lb" x="758.9" y="218.57" font-size="9.5" fill="#5a160c" stroke="#5a160c" stroke-width="0.19" textLength="56.5" lengthAdjust="spacingAndGlyphs">Uttar Pradesh</text>
<text class="lb" x="760.4" y="234.39" font-size="13.5" fill="#5a160c" stroke="#5a160c" stroke-width="0.27" textLength="38.0" lengthAdjust="spacingAndGlyphs">37.8%</text>
<text class="lb" x="849.6" y="242.49" font-size="7.0" fill="#f9aca4" stroke="#f9aca4" stroke-width="0.14" textLength="17.0" lengthAdjust="spacingAndGlyphs">Bihar</text>
<text class="lb" x="849.2" y="257.92" font-size="13.0" fill="#fde2de" stroke="#fde2de" stroke-width="0.26" textLength="32.6" lengthAdjust="spacingAndGlyphs">51.9%</text>
<text class="lb" x="838.0" y="285.64" font-size="8.0" fill="#6a1a08" stroke="#6a1a08" stroke-width="0.16" textLength="34.8" lengthAdjust="spacingAndGlyphs">Jharkhand</text>
<text class="lb" x="837.0" y="295.75" font-size="10.0" fill="#6a1a08" stroke="#6a1a08" stroke-width="0.20" textLength="27.8" lengthAdjust="spacingAndGlyphs">42.2%</text>
<text class="lb" x="884.8" y="296.45" font-size="8.3" fill="#1c430c" stroke="#1c430c" stroke-width="0.17" textLength="23.8" lengthAdjust="spacingAndGlyphs">Bengal</text>
<text class="lb" x="886.3" y="310.68" font-size="11.5" fill="#1c430c" stroke="#1c430c" stroke-width="0.23" textLength="27.2" lengthAdjust="spacingAndGlyphs">21.4%</text>
<text class="lb" x="897.6" y="182.44" font-size="8.0" fill="#262626" stroke="#262626" stroke-width="0.16" textLength="23.7" lengthAdjust="spacingAndGlyphs">Sikkim</text>
<text class="lb" x="898.5" y="195.00" font-size="11.0" fill="#262626" stroke="#262626" stroke-width="0.22" textLength="24.0" lengthAdjust="spacingAndGlyphs">3.8%</text>
<text class="lb" x="939.8" y="237.32" font-size="8.5" fill="#5a2a0a" stroke="#5a2a0a" stroke-width="0.17" textLength="24.4" lengthAdjust="spacingAndGlyphs">Assam</text>
<text class="lb" x="974.1" y="237.74" font-size="12.5" fill="#5a2a0a" stroke="#5a2a0a" stroke-width="0.25" textLength="33.3" lengthAdjust="spacingAndGlyphs">32.7%</text>
<text class="lb" x="929.6" y="268.06" font-size="7.5" fill="#262626" stroke="#262626" stroke-width="0.15" textLength="33.3" lengthAdjust="spacingAndGlyphs">Meghalaya</text>
<text class="lb" x="930.0" y="280.63" font-size="10.5" fill="#262626" stroke="#262626" stroke-width="0.21" textLength="28.7" lengthAdjust="spacingAndGlyphs">32.7%</text>
<text class="lb" x="1011.9" y="196.52" font-size="8.5" fill="#33330a" stroke="#33330a" stroke-width="0.17" textLength="39.8" lengthAdjust="spacingAndGlyphs">Arunachal</text>
<text class="lb" x="988.0" y="209.10" font-size="11.0" fill="#33330a" stroke="#33330a" stroke-width="0.22" textLength="30.6" lengthAdjust="spacingAndGlyphs">24.3%</text>
<text class="lb" x="1035.2" y="242.69" font-size="7.0" fill="#262626" stroke="#262626" stroke-width="0.14" textLength="28.7" lengthAdjust="spacingAndGlyphs">Nagaland</text>
<text class="lb" x="1035.6" y="254.81" font-size="11.0" fill="#262626" stroke="#262626" stroke-width="0.22" textLength="29.6" lengthAdjust="spacingAndGlyphs">25.2%</text>
<text class="lb" x="1022.2" y="273.76" font-size="7.5" fill="#262626" stroke="#262626" stroke-width="0.15" textLength="25.0" lengthAdjust="spacingAndGlyphs">Manipur</text>
<text class="lb" x="1024.4" y="288.86" font-size="12.0" fill="#262626" stroke="#262626" stroke-width="0.24" textLength="31.5" lengthAdjust="spacingAndGlyphs">17.9%</text>
<text class="lb" x="939.8" y="311.79" font-size="7.0" fill="#262626" stroke="#262626" stroke-width="0.14" textLength="21.7" lengthAdjust="spacingAndGlyphs">Tripura</text>
<text class="lb" x="942.6" y="324.13" font-size="10.5" fill="#262626" stroke="#262626" stroke-width="0.21" textLength="28.7" lengthAdjust="spacingAndGlyphs">16.7%</text>
<text class="lb" x="979.1" y="333.59" font-size="9.0" fill="#262626" stroke="#262626" stroke-width="0.18" textLength="31.5" lengthAdjust="spacingAndGlyphs">Mizoram</text>
<text class="lb" x="979.3" y="347.90" font-size="11.0" fill="#262626" stroke="#262626" stroke-width="0.22" textLength="24.0" lengthAdjust="spacingAndGlyphs">9.8%</text>
<text class="lb" x="600.9" y="295.19" font-size="9.0" fill="#1a5a14" stroke="#1a5a14" stroke-width="0.18" textLength="28.3" lengthAdjust="spacingAndGlyphs">Gujarat</text>
<text class="lb" x="602.8" y="311.12" font-size="13.0" fill="#1a5a14" stroke="#1a5a14" stroke-width="0.26" textLength="34.6" lengthAdjust="spacingAndGlyphs">18.6%</text>
<text class="lb" x="693.5" y="297.05" font-size="10.0" fill="#3e1d08" stroke="#3e1d08" stroke-width="0.20" textLength="35.0" lengthAdjust="spacingAndGlyphs">Madhya</text>
<text class="lb" x="693.5" y="309.65" font-size="10.0" fill="#3e1d08" stroke="#3e1d08" stroke-width="0.20" textLength="36.7" lengthAdjust="spacingAndGlyphs">Pradesh</text>
<text class="lb" x="741.1" y="304.97" font-size="14.0" fill="#3e1d08" stroke="#3e1d08" stroke-width="0.28" textLength="39.3" lengthAdjust="spacingAndGlyphs">36.7%</text>
<text class="lb" x="787.0" y="317.22" font-size="8.5" fill="#5a4a0a" stroke="#5a4a0a" stroke-width="0.17" textLength="10.7" lengthAdjust="spacingAndGlyphs">CG</text>
<text class="lb" x="787.4" y="330.38" font-size="11.5" fill="#3e1d08" stroke="#3e1d08" stroke-width="0.23" textLength="31.0" lengthAdjust="spacingAndGlyphs">29.9%</text>
<text class="lb" x="829.1" y="344.09" font-size="9.0" fill="#3e1d08" stroke="#3e1d08" stroke-width="0.18" textLength="28.5" lengthAdjust="spacingAndGlyphs">Odisha</text>
<text class="lb" x="828.1" y="357.76" font-size="12.0" fill="#3e1d08" stroke="#3e1d08" stroke-width="0.24" textLength="33.7" lengthAdjust="spacingAndGlyphs">29.4%</text>
<text class="lb" x="607.6" y="356.73" font-size="6.0" fill="#262626" stroke="#262626" stroke-width="0.12" textLength="21.0" lengthAdjust="spacingAndGlyphs">DNHDD</text>
<text class="lb" x="607.6" y="371.52" font-size="8.5" fill="#262626" stroke="#262626" stroke-width="0.17" textLength="20.4" lengthAdjust="spacingAndGlyphs">6.8%</text>
<text class="lb" x="664.1" y="372.13" font-size="10.8" fill="#0a4a26" stroke="#0a4a26" stroke-width="0.22" textLength="57.4" lengthAdjust="spacingAndGlyphs">Maharashtra</text>
<text class="lb" x="667.4" y="386.81" font-size="13.0" fill="#0a4a26" stroke="#0a4a26" stroke-width="0.26" textLength="34.6" lengthAdjust="spacingAndGlyphs">14.9%</text>
<text class="lb" x="732.6" y="396.34" font-size="8.0" fill="#0a4a26" stroke="#0a4a26" stroke-width="0.16" textLength="36.3" lengthAdjust="spacingAndGlyphs">Telangana</text>
<text class="lb" x="732.6" y="409.98" font-size="11.5" fill="#0a4a26" stroke="#0a4a26" stroke-width="0.23" textLength="30.9" lengthAdjust="spacingAndGlyphs">13.7%</text>
<text class="lb" x="626.5" y="450.24" font-size="8.0" fill="#262626" stroke="#262626" stroke-width="0.16" textLength="14.4" lengthAdjust="spacingAndGlyphs">Goa</text>
<text class="lb" x="626.5" y="460.39" font-size="9.0" fill="#262626" stroke="#262626" stroke-width="0.18" textLength="19.0" lengthAdjust="spacingAndGlyphs">3.8%</text>
<text class="lb" x="671.3" y="461.34" font-size="8.0" fill="#0a4a26" stroke="#0a4a26" stroke-width="0.16" textLength="36.5" lengthAdjust="spacingAndGlyphs">Karnataka</text>
<text class="lb" x="675.6" y="474.46" font-size="12.0" fill="#0a4a26" stroke="#0a4a26" stroke-width="0.24" textLength="32.0" lengthAdjust="spacingAndGlyphs">13.2%</text>
<text class="lb" x="726.9" y="448.22" font-size="8.5" fill="#0a4a26" stroke="#0a4a26" stroke-width="0.17" textLength="25.9" lengthAdjust="spacingAndGlyphs">Andhra</text>
<text class="lb" x="728.7" y="463.07" font-size="14.0" fill="#0a4a26" stroke="#0a4a26" stroke-width="0.28" textLength="36.5" lengthAdjust="spacingAndGlyphs">12.3%</text>
<text class="lb" x="719.4" y="523.12" font-size="8.5" fill="#c8f5c0" stroke="#c8f5c0" stroke-width="0.17" textLength="38.9" lengthAdjust="spacingAndGlyphs">Tamil Nadu</text>
<text class="lb" x="719.4" y="535.86" font-size="12.0" fill="#d8fbd0" stroke="#d8fbd0" stroke-width="0.24" textLength="26.0" lengthAdjust="spacingAndGlyphs">4.9%</text>
<text class="lb" x="663.6" y="537.82" font-size="8.5" fill="#262626" stroke="#262626" stroke-width="0.17" textLength="22.8" lengthAdjust="spacingAndGlyphs">Kerala</text>
<text class="lb" x="664.4" y="552.01" font-size="13.0" fill="#262626" stroke="#262626" stroke-width="0.26" textLength="26.9" lengthAdjust="spacingAndGlyphs">0.7%</text>
<text class="lb" x="609.4" y="523.20" font-size="9.0" fill="#262626" stroke="#262626" stroke-width="0.18" textLength="49.3" lengthAdjust="spacingAndGlyphs">Lakshadweep</text>
<text class="lb" x="608.1" y="537.22" font-size="13.0" fill="#262626" stroke="#262626" stroke-width="0.26" textLength="25.0" lengthAdjust="spacingAndGlyphs">1.8%</text>
<text class="lb" x="776.2" y="513.42" font-size="8.5" fill="#262626" stroke="#262626" stroke-width="0.17" textLength="41.6" lengthAdjust="spacingAndGlyphs">Puducherry</text>
<text class="lb" x="764.8" y="524.70" font-size="9.0" fill="#262626" stroke="#262626" stroke-width="0.18" textLength="18.5" lengthAdjust="spacingAndGlyphs">1.7%</text>
<text class="lb" x="796.7" y="543.99" font-size="7.0" fill="#262626" stroke="#262626" stroke-width="0.14" textLength="42.0" lengthAdjust="spacingAndGlyphs">Andaman and</text>
<text class="lb" x="796.7" y="552.88" font-size="7.0" fill="#262626" stroke="#262626" stroke-width="0.14" textLength="47.4" lengthAdjust="spacingAndGlyphs">Nicobar Islands</text>
<text class="lb" x="786.2" y="568.30" font-size="11.0" fill="#262626" stroke="#262626" stroke-width="0.22" textLength="23.4" lengthAdjust="spacingAndGlyphs">4.3%</text>
</g>
<defs><linearGradient id="lg" x1="0" x2="1" y1="0" y2="0"><stop offset="0" stop-color="#1d7a1c"/><stop offset="0.12" stop-color="#1f9a48"/><stop offset="0.27" stop-color="#35d07f"/><stop offset="0.38" stop-color="#a9d94a"/><stop offset="0.5" stop-color="#fdd835"/><stop offset="0.66" stop-color="#fbaa33"/><stop offset="0.82" stop-color="#f6702a"/><stop offset="1" stop-color="#e1141c"/></linearGradient></defs>
<g id="title">
<text x="928.5" y="47.4" font-size="20.4" font-weight="bold" fill="#111" text-anchor="middle" textLength="259" lengthAdjust="spacingAndGlyphs">What % of people in Each</text>
<text x="927.3" y="75.3" font-size="20.4" font-weight="bold" fill="#111" text-anchor="middle" textLength="155.5" lengthAdjust="spacingAndGlyphs">State are Poor?</text>
<rect x="792.3" y="102" width="266" height="18" rx="9" fill="url(#lg)"/>
<text x="789" y="135.5" font-size="11.4" fill="#222">0%</text>
<text x="925.4" y="135.5" font-size="11.4" fill="#222" text-anchor="middle">25%</text>
<text x="1067.8" y="135.5" font-size="11.4" fill="#222" text-anchor="end">50%</text>
</g>
<g id="stats">
<text x="964.8" y="400.5" font-size="10.6" fill="#1a1a1a" text-anchor="middle" textLength="184" lengthAdjust="spacingAndGlyphs" stroke="#1a1a1a" stroke-width="0.45">Percentage of Indians who are poor</text>
<text x="965.8" y="448.4" font-size="45.8" font-weight="bold" fill="#111" stroke="#111" stroke-width="1.6" stroke-linejoin="round" text-anchor="middle" textLength="176.5" lengthAdjust="spacingAndGlyphs">25.01%</text>
<text x="907.2" y="476.0" font-size="8.2" font-weight="bold" fill="#111" text-anchor="middle" textLength="95.4" lengthAdjust="spacingAndGlyphs" stroke="#111" stroke-width="0.3">Highest Poverty Districts</text>
<text x="1013.3" y="476.0" font-size="8.2" font-weight="bold" fill="#111" text-anchor="middle" textLength="93.4" lengthAdjust="spacingAndGlyphs" stroke="#111" stroke-width="0.3">Lowest Poverty Districts</text>
<text x="907.2" y="494.00" font-size="8.3" fill="#1c1c1c" stroke="#1c1c1c" stroke-width="0.2" text-anchor="middle" textLength="85.6" lengthAdjust="spacingAndGlyphs">Shrawasti, UP (74.38%)</text>
<text x="907.2" y="503.65" font-size="8.3" fill="#1c1c1c" stroke="#1c1c1c" stroke-width="0.2" text-anchor="middle" textLength="80.7" lengthAdjust="spacingAndGlyphs">Bahraich, UP (71.88%)</text>
<text x="907.2" y="513.30" font-size="8.3" fill="#1c1c1c" stroke="#1c1c1c" stroke-width="0.2" text-anchor="middle" textLength="78.2" lengthAdjust="spacingAndGlyphs">Alirajpur, MP (71.31%)</text>
<text x="1014.2" y="494.00" font-size="8.3" fill="#1c1c1c" stroke="#1c1c1c" stroke-width="0.2" text-anchor="middle" textLength="85.3" lengthAdjust="spacingAndGlyphs">Kottayam, Kerala (0.0%)</text>
<text x="1014.2" y="503.65" font-size="8.3" fill="#1c1c1c" stroke="#1c1c1c" stroke-width="0.2" text-anchor="middle" textLength="87.1" lengthAdjust="spacingAndGlyphs">Ernakulam, Kerala (0.1%)</text>
<text x="1014.2" y="513.30" font-size="8.3" fill="#1c1c1c" stroke="#1c1c1c" stroke-width="0.2" text-anchor="middle" textLength="92.9" lengthAdjust="spacingAndGlyphs">Kozhikode, Kerala (0.26%)</text>
<text x="1026" y="568.6" font-size="33.6" font-weight="bold" font-style="italic" fill="#111" stroke="#111" stroke-width="0.3" textLength="41.6" lengthAdjust="spacingAndGlyphs">iip</text>
</g>
</svg>
</body>
</html>
